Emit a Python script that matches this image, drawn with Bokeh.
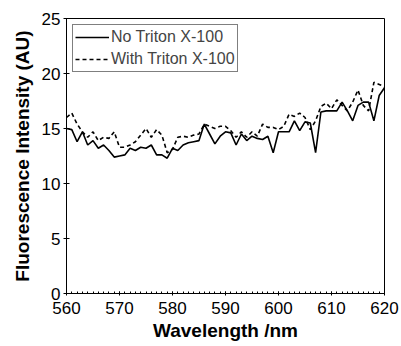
from bokeh.plotting import figure
from bokeh.models import Range1d, Legend, LegendItem, FixedTicker
from bokeh.embed import file_html
from bokeh.resources import INLINE

wavelength = list(range(560, 621))
no_triton = [15.0, 14.9, 13.8, 14.7, 13.5, 13.9, 13.2, 13.5, 13.0, 12.4,
             12.5, 12.6, 13.2, 13.0, 13.3, 13.2, 13.5, 12.6, 12.6, 12.3,
             13.2, 13.0, 13.5, 13.7, 13.8, 13.9, 15.4, 14.5, 13.6, 14.3,
             14.7, 14.6, 13.5, 14.5, 13.9, 14.3, 14.1, 14.0, 14.3, 12.8,
             14.7, 14.7, 14.7, 15.7, 14.8, 15.6, 15.5, 12.8, 16.5, 16.6,
             16.6, 16.6, 17.4, 16.6, 15.7, 17.1, 17.4, 17.4, 15.7, 18.0,
             18.7]
with_triton = [16.0, 16.4, 15.4, 14.7, 14.2, 14.7, 13.9, 14.2, 14.1, 14.7,
               13.3, 13.3, 13.5, 13.8, 14.4, 15.0, 14.2, 14.9, 14.4, 12.8,
               13.1, 14.2, 14.3, 14.2, 14.4, 14.5, 15.4, 15.2, 15.0, 15.2,
               15.2, 14.8, 14.2, 14.7, 14.2, 14.7, 14.3, 15.4, 15.1, 15.1,
               14.9, 15.2, 16.3, 16.1, 16.4, 16.0, 14.9, 15.7, 17.0, 17.3,
               16.8, 17.6, 17.1, 16.6, 17.4, 18.5, 17.1, 16.6, 19.2, 19.0,
               18.8]
x_ticks = [560, 570, 580, 590, 600, 610, 620]
y_ticks = [0, 5, 10, 15, 20, 25]
series_names = ["No Triton X-100", "With Triton X-100"]

p = figure(width=401, height=346, output_backend="svg", toolbar_location=None,
           x_range=Range1d(560, 620), y_range=Range1d(0, 25))
p.min_border_left = 66
p.min_border_right = 17
p.min_border_top = 18
p.min_border_bottom = 53
p.grid.visible = False
p.outline_line_color = "black"
p.outline_line_width = 1
p.background_fill_color = "white"
p.border_fill_color = "white"

r1 = p.line(wavelength, no_triton, line_color="black", line_width=1.6)
r2 = p.line(wavelength, with_triton, line_color="black", line_width=1.6,
            line_dash="4 3")

for ax in (p.xaxis[0], p.yaxis[0]):
    ax.major_label_text_font = "Liberation Sans"
    ax.major_label_text_font_size = "17px"
    ax.major_label_text_color = "black"
    ax.axis_label_text_font = "Liberation Sans"
    ax.axis_label_text_font_style = "bold"
    ax.axis_label_text_font_size = "19px"
    ax.axis_label_text_color = "black"
    ax.axis_line_color = "black"
    ax.major_tick_line_color = "black"
    ax.minor_tick_line_color = "black"

p.xaxis.ticker = FixedTicker(ticks=x_ticks, minor_ticks=list(range(560, 621)))
p.yaxis.ticker = FixedTicker(ticks=y_ticks)
p.xaxis.axis_label = "Wavelength /nm"
p.yaxis.axis_label = "Fluorescence Intensity (AU)"
p.xaxis.major_tick_in = 2
p.xaxis.major_tick_out = 2
p.xaxis.minor_tick_in = 2
p.xaxis.minor_tick_out = 0
p.yaxis.major_tick_in = 3
p.yaxis.major_tick_out = 3
p.yaxis.minor_tick_line_color = None
p.xaxis.major_label_standoff = 6
p.yaxis.major_label_standoff = 3
p.xaxis.axis_label_standoff = 3
p.yaxis.axis_label_standoff = 6

legend = Legend(items=[LegendItem(label=series_names[0], renderers=[r1]),
                       LegendItem(label=series_names[1], renderers=[r2])],
                location="top_left")
legend.label_text_font = "Liberation Sans"
legend.label_text_font_size = "16px"
legend.label_height = 20
legend.glyph_height = 20
legend.glyph_width = 34
legend.spacing = 2
legend.padding = 2
legend.margin = 6
legend.label_standoff = 2
legend.border_line_color = "black"
legend.border_line_width = 1
legend.background_fill_alpha = 1
p.add_layout(legend)

open("out.html", "w").write(file_html(p, INLINE))
